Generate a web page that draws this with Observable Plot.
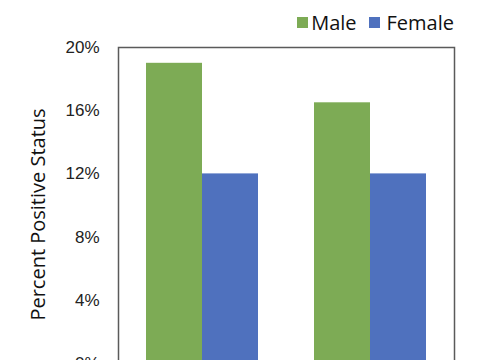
<!DOCTYPE html>
<html>
<head>
<meta charset="utf-8">
<script src="https://cdn.jsdelivr.net/npm/d3@7"></script>
<script src="https://cdn.jsdelivr.net/npm/@observablehq/plot@0.6"></script>
<style>
  html, body { margin: 0; padding: 0; background: #fff; overflow: hidden; width: 485px; height: 360px; }
  #legend { height: 36px; box-sizing: border-box; padding-top: 9px; padding-right: 31px; display: flex; justify-content: flex-end; }
  div .lg-swatches { font-family: "Open Sans", sans-serif; font-size: 20px !important; color: #111; margin: 0 !important; min-height: 0 !important; }
  div .lg-swatch { margin-right: 12px !important; }
  div .lg-swatch:last-child { margin-right: 0 !important; }
  div .lg-swatch > svg { margin-right: 3px !important; }
  div .lg-swatch:last-child > svg { margin-right: 7px !important; }
</style>
</head>
<body>
<div id="legend"></div>
<div id="chart"></div>
<script>
const groups = ["Group A", "Group B"];
const sexes = ["Male", "Female"];
const maleValues = [0.19, 0.165];
const femaleValues = [0.12, 0.12];
const yTicks = [0, 0.04, 0.08, 0.12, 0.16, 0.20];
const colors = ["#7dab55", "#4f71be"];
const yTitle = "Percent Positive Status";

const data = [];
groups.forEach((g, i) => {
  data.push({group: g, sex: "Male", value: maleValues[i]});
  data.push({group: g, sex: "Female", value: femaleValues[i]});
});

const colorScale = {domain: sexes, range: colors};

const legend = Plot.legend({
  color: colorScale,
  legend: "swatches",
  swatchSize: 11,
  className: "lg"
});
document.getElementById("legend").append(legend);

const chart = Plot.plot({
  width: 485,
  height: 367,
  marginTop: 11,
  marginBottom: 40,
  marginLeft: 118,
  marginRight: 31,
  style: {fontFamily: "Liberation Sans, Arial, sans-serif", fontSize: "17px", color: "#222"},
  fx: {domain: groups, padding: 0, axis: null},
  x: {domain: sexes, paddingInner: 0, paddingOuter: 0.5, axis: null},
  y: {domain: [0, 0.2]},
  color: colorScale,
  marks: [
    Plot.barY(data, {fx: "group", x: "sex", y: "value", fill: "sex", inset: 0}),
    Plot.frame({facet: "super", stroke: "#5a5a5a", strokeWidth: 1.5}),
    Plot.axisY(yTicks, {
      tickSize: 0,
      tickPadding: 19,
      tickFormat: d => Math.round(d * 100) + "%",
      label: null,
      fontSize: 17
    }),
    Plot.text([yTitle], {
      facet: "super",
      text: d => d,
      frameAnchor: "left",
      rotate: -90,
      dx: -80,
      dy: 9,
      fontSize: 20,
      fontFamily: "Open Sans, sans-serif",
      fill: "#111",
      textAnchor: "middle",
      lineAnchor: "middle"
    })
  ]
});
document.getElementById("chart").append(chart);
</script>
</body>
</html>
